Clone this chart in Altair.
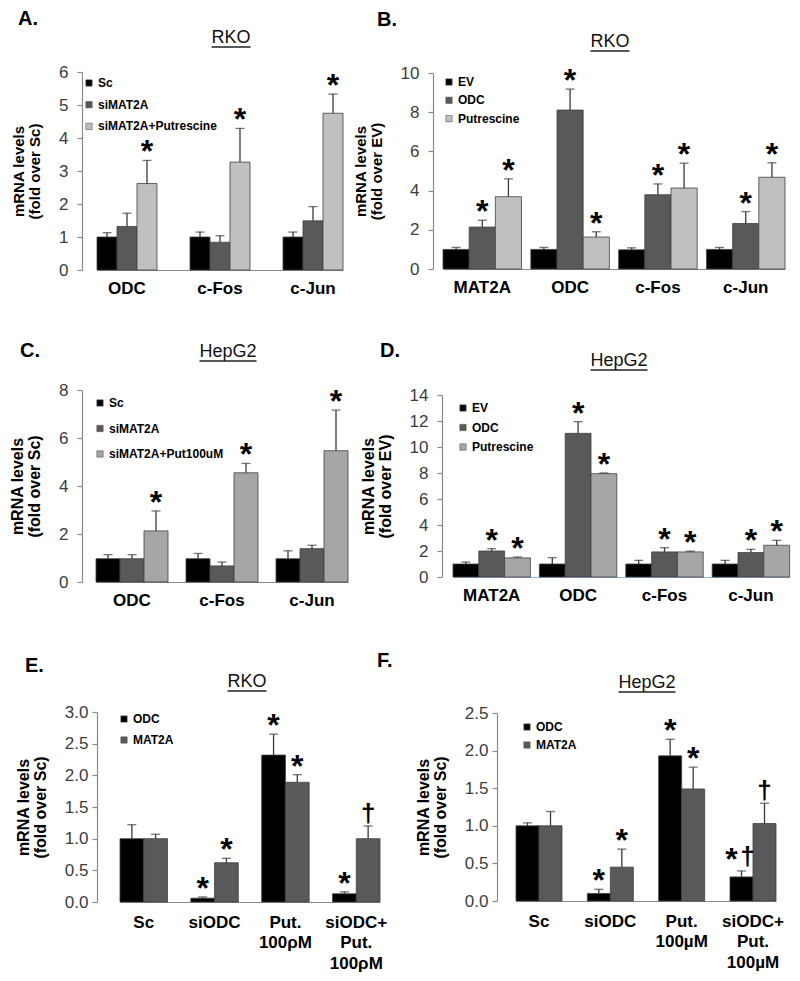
import altair as alt
import pandas as pd

FONT = "Liberation Sans"
AXIS_GREY = "#8a8a8a"
ERR_COLOR = "#3a3a3a"

# ---------------- Panel A (RKO) ----------------
A_cats = ["ODC", "c-Fos", "c-Jun"]
A_series = ["Sc", "siMAT2A", "siMAT2A+Putrescine"]
A_vals = [[1.00, 1.32, 2.62], [1.00, 0.84, 3.27], [1.00, 1.49, 4.75]]
A_errs = [[0.13, 0.40, 0.70], [0.15, 0.20, 1.02], [0.15, 0.43, 0.58]]
A_marks = [["", "", "*"], ["", "", "*"], ["", "", "*"]]
A_colors = ["#000000", "#595959", "#c0c0c0"]

# ---------------- Panel B (RKO) ----------------
B_cats = ["MAT2A", "ODC", "c-Fos", "c-Jun"]
B_series = ["EV", "ODC", "Putrescine"]
B_vals = [[1.00, 2.14, 3.69], [1.00, 8.11, 1.63], [0.98, 3.79, 4.13], [1.00, 2.32, 4.68]]
B_errs = [[0.10, 0.35, 0.91], [0.10, 1.07, 0.27], [0.10, 0.55, 1.27], [0.10, 0.61, 0.74]]
B_marks = [["", "*", "*"], ["", "*", "*"], ["", "*", "*"], ["", "*", "*"]]
B_colors = ["#000000", "#595959", "#c0c0c0"]

# ---------------- Panel C (HepG2) ----------------
C_cats = ["ODC", "c-Fos", "c-Jun"]
C_series = ["Sc", "siMAT2A", "siMAT2A+Put100uM"]
C_vals = [[0.97, 0.97, 2.13], [0.97, 0.67, 4.55], [0.97, 1.39, 5.47]]
C_errs = [[0.17, 0.17, 0.83], [0.22, 0.16, 0.39], [0.33, 0.14, 1.69]]
C_marks = [["", "", "*"], ["", "", "*"], ["", "", "*"]]
C_colors = ["#000000", "#595959", "#a6a6a6"]

# ---------------- Panel D (HepG2) ----------------
D_cats = ["MAT2A", "ODC", "c-Fos", "c-Jun"]
D_series = ["EV", "ODC", "Putrescine"]
D_vals = [[1.00, 2.00, 1.47], [1.00, 11.05, 7.95], [1.00, 1.93, 1.93], [1.00, 1.88, 2.44]]
D_errs = [[0.15, 0.18, 0.07], [0.49, 0.90, 0.05], [0.28, 0.32, 0.06], [0.28, 0.25, 0.38]]
D_marks = [["", "*", "*"], ["", "*", "*"], ["", "*", "*"], ["", "*", "*"]]
D_colors = ["#000000", "#595959", "#a6a6a6"]

# ---------------- Panel E (RKO) ----------------
E_cats = ["Sc", "siODC", "Put.\n100ρM", "siODC+\nPut.\n100ρM"]
E_series = ["ODC", "MAT2A"]
E_vals = [[1.00, 1.00], [0.06, 0.62], [2.32, 1.89], [0.13, 1.00]]
E_errs = [[0.22, 0.07], [0.02, 0.07], [0.33, 0.12], [0.03, 0.20]]
E_marks = [["", ""], ["*", "*"], ["*", "*"], ["*", "†"]]
E_colors = ["#000000", "#595959"]

# ---------------- Panel F (HepG2) ----------------
F_cats = ["Sc", "siODC", "Put.\n100µM", "siODC+\nPut.\n100µM"]
F_series = ["ODC", "MAT2A"]
F_vals = [[1.00, 1.00], [0.10, 0.45], [1.93, 1.49], [0.32, 1.03]]
F_errs = [[0.04, 0.19], [0.055, 0.24], [0.22, 0.29], [0.08, 0.27]]
F_marks = [["", ""], ["*", "*"], ["*", "*"], ["*†", "†"]]
F_colors = ["#000000", "#595959"]

CHARW = {'R': .722, 'K': .667, 'O': .778, 'H': .722, 'e': .556, 'p': .556, 'G': .778, '2': .556}

STAR_SIZE = 32
STAR_DY = -8
DAG_SIZE = 26
DAG_DY = -12


def make_df(cats, series, vals, errs, marks):
    rows = []
    for i, c in enumerate(cats):
        for j, s in enumerate(series):
            rows.append(dict(cat=c, ser=s, v=vals[i][j], hi=vals[i][j] + errs[i][j], m=marks[i][j]))
    return pd.DataFrame(rows)


def panel(cats, series, vals, errs, marks, colors, w, h, ymax, ystep, yfmt, ytitle, ytsize,
          xr, pin, leg, letter, letter_xy, title, title_xy, xdomain=AXIS_GREY, multiline=False,
          ylab_pad=9, ytitle_pad=16, xlab_pad=10, cell=None):
    df = make_df(cats, series, vals, errs, marks)
    nt = int(round(ymax / ystep))
    ticks = [round(i * ystep, 3) for i in range(nt + 1)]
    yscale = alt.Scale(domain=[0, ymax], nice=False)
    yaxis = alt.Axis(values=ticks, format=yfmt, title=ytitle, titleFontSize=ytsize,
                     titlePadding=ytitle_pad, labelPadding=ylab_pad, tickSize=5,
                     titleLineHeight=ytsize + 1)
    xaxis = alt.Axis(title=None, ticks=False, labelAngle=0, labelPadding=xlab_pad,
                     domainColor=xdomain,
                     labelExpr="split(datum.label, '\\n')" if multiline else "datum.label",
                     labelLineHeight=20.5)
    xenc = alt.X('cat:N', sort=cats,
                 scale=alt.Scale(range=[xr[0], xr[1]], paddingInner=pin, paddingOuter=0),
                 axis=xaxis)
    xo = alt.XOffset('ser:N', scale=alt.Scale(domain=series))
    yv = alt.Y('v:Q', scale=yscale, axis=yaxis)
    yhi = alt.Y('hi:Q', scale=yscale, axis=yaxis)
    base = alt.Chart(df)
    layers = []
    if cell is not None:
        cdf = pd.DataFrame({'c': [0]})
        layers.append(alt.Chart(cdf).mark_rect(opacity=0).encode(
            x=alt.value(cell[0]), x2=alt.value(cell[1]),
            y=alt.value(cell[2]), y2=alt.value(cell[3])))
    bars = base.mark_bar(stroke="#404040", strokeWidth=0.8).encode(
        x=xenc, xOffset=xo, y=yv,
        color=alt.Color('ser:N', scale=alt.Scale(domain=series, range=colors),
                        legend=alt.Legend(orient='none', legendX=leg[0], legendY=leg[1],
                                          title=None, symbolType='square', symbolSize=40,
                                          symbolStrokeWidth=0.6, symbolStrokeColor='#555555',
                                          labelFont=FONT, labelFontSize=12,
                                          labelFontWeight='bold', labelColor='black',
                                          rowPadding=leg[2], labelOffset=3, padding=0)))
    err = base.mark_rule(color=ERR_COLOR, strokeWidth=1.3).encode(
        x=xenc, xOffset=xo, y=yv, y2='hi:Q')
    cap = base.mark_tick(color=ERR_COLOR, thickness=1.3, size=9, orient='horizontal').encode(
        x=xenc, xOffset=xo, y=yhi)
    star = base.transform_filter("datum.m == '*'").mark_text(
        text='*', font=FONT, fontSize=STAR_SIZE, fontWeight='bold', baseline='middle',
        dy=STAR_DY, color='black').encode(x=xenc, xOffset=xo, y=yhi)
    dag = base.transform_filter("datum.m == '†'").mark_text(
        text='†', font=FONT, fontSize=DAG_SIZE, fontWeight='bold', baseline='middle',
        dy=DAG_DY, color='black').encode(x=xenc, xOffset=xo, y=yhi)
    star2 = base.transform_filter("datum.m == '*†'").mark_text(
        text='*', font=FONT, fontSize=STAR_SIZE, fontWeight='bold', baseline='middle',
        dy=STAR_DY - 3, dx=-10, color='black').encode(x=xenc, xOffset=xo, y=yhi)
    dag2 = base.transform_filter("datum.m == '*†'").mark_text(
        text='†', font=FONT, fontSize=DAG_SIZE, fontWeight='bold', baseline='middle',
        dy=DAG_DY - 2, dx=6, color='black').encode(x=xenc, xOffset=xo, y=yhi)

    ldf = pd.DataFrame({'t': [letter]})
    tdf = pd.DataFrame({'t': [title]})
    letter_layer = alt.Chart(ldf).mark_text(font=FONT, fontSize=20, fontWeight='bold',
                                            align='left', baseline='alphabetic',
                                            color='black').encode(
        text='t:N', x=alt.value(letter_xy[0]), y=alt.value(letter_xy[1]))
    title_layer = alt.Chart(tdf).mark_text(font=FONT, fontSize=18, align='center',
                                           baseline='alphabetic', color='#111111').encode(
        text='t:N', x=alt.value(title_xy[0]), y=alt.value(title_xy[1]))
    tw = sum(CHARW.get(ch, 0.556) for ch in title) * 18
    underline = alt.Chart(tdf).mark_rule(color='#222222', strokeWidth=1.3).encode(
        x=alt.value(title_xy[0] - tw / 2), x2=alt.value(title_xy[0] + tw / 2),
        y=alt.value(title_xy[1] + 4))
    layers += [bars, err, cap, star, dag, star2, dag2, letter_layer, title_layer, underline]
    return alt.layer(*layers).properties(width=w, height=h)


pA = panel(A_cats, A_series, A_vals, A_errs, A_marks, A_colors, 306, 198, 6, 1, "d",
           ["mRNA levels", "(fold over Sc)"], 15, (15, 261), 0.355, (1, 5, 9.7),
           "A.", (-64, -47), "RKO", (149, -29), cell=(-74, 710, -64, 246))
pB = panel(B_cats, B_series, B_vals, B_errs, B_marks, B_colors, 354, 196, 10, 2, "d",
           ["mRNA levels", "(fold over EV)"], 15, (10, 352), 0.106, (10, 3, 6.3),
           "B.", (-56, -47), "RKO", (177, -26))
pC = panel(C_cats, C_series, C_vals, C_errs, C_marks, C_colors, 275, 192, 8, 2, "d",
           ["mRNA levels", "(fold over Sc)"], 16, (14, 266), 0.2, (12, 7, 13.5),
           "C.", (-62, -33), "HepG2", (146, -33), cell=(-74, 710, -72, 246))
pD = panel(D_cats, D_series, D_vals, D_errs, D_marks, D_colors, 348, 182, 14, 2, "d",
           ["mRNA levels", "(fold over EV)"], 16, (11, 347.6), 0.104, (15, 7, 7.5),
           "D.", (-62, -38), "HepG2", (177, -29), xdomain="#95b3d7")
pE = panel(E_cats, E_series, E_vals, E_errs, E_marks, E_colors, 300, 190, 3.0, 0.5, ".1f",
           ["mRNA levels", "(fold over Sc)"], 16, (23, 283), 0.33, (21, 1, 9),
           "E.", (-72, -40), "RKO", (150, -25), multiline=True, ylab_pad=4, xlab_pad=12,
           cell=(-89, 695, -76, 268))
pF = panel(F_cats, F_series, F_vals, F_errs, F_marks, F_colors, 290, 188, 2.5, 0.5, ".1f",
           ["mRNA levels", "(fold over Sc)"], 16, (19, 279), 0.355, (24, 8, 6),
           "F.", (-120, -46), "HepG2", (150, -25), multiline=True, ylab_pad=4, xlab_pad=12)

spacer = alt.Chart(pd.DataFrame({'v': [0]})).mark_point(opacity=0).encode(
    x=alt.X('v:Q', axis=None), y=alt.Y('v:Q', axis=None)).properties(width=1, height=1)


def res(c):
    return c.resolve_scale(x='independent', y='independent', color='independent',
                           xOffset='independent').resolve_legend(color='independent')


row1 = res(alt.hconcat(pA, pB, spacing=45, bounds='flush', center=True))
row2 = res(alt.hconcat(pC, pD, spacing=85, bounds='flush', center=True))
inner3 = res(alt.hconcat(pE, pF, spacing=100, bounds='flush', center=True))
row3 = res(alt.hconcat(spacer, inner3, spacing=14, bounds='flush'))

chart = res(alt.vconcat(row1, row2, row3, spacing=0)).properties(
    padding=0
).configure(font=FONT).configure_view(stroke=None).configure_axis(
    domainColor=AXIS_GREY, tickColor=AXIS_GREY, labelFont=FONT, titleFont=FONT,
    grid=False, domainWidth=1.2, tickWidth=1.2
).configure_axisY(
    labelFontSize=17, labelColor="#3c3c3c", titleFontWeight='bold', titleColor='black'
).configure_axisX(
    labelFontSize=17, labelFontWeight='bold', labelColor='black'
)

chart.save("out.html", embed_options={"renderer": "svg", "actions": False})
